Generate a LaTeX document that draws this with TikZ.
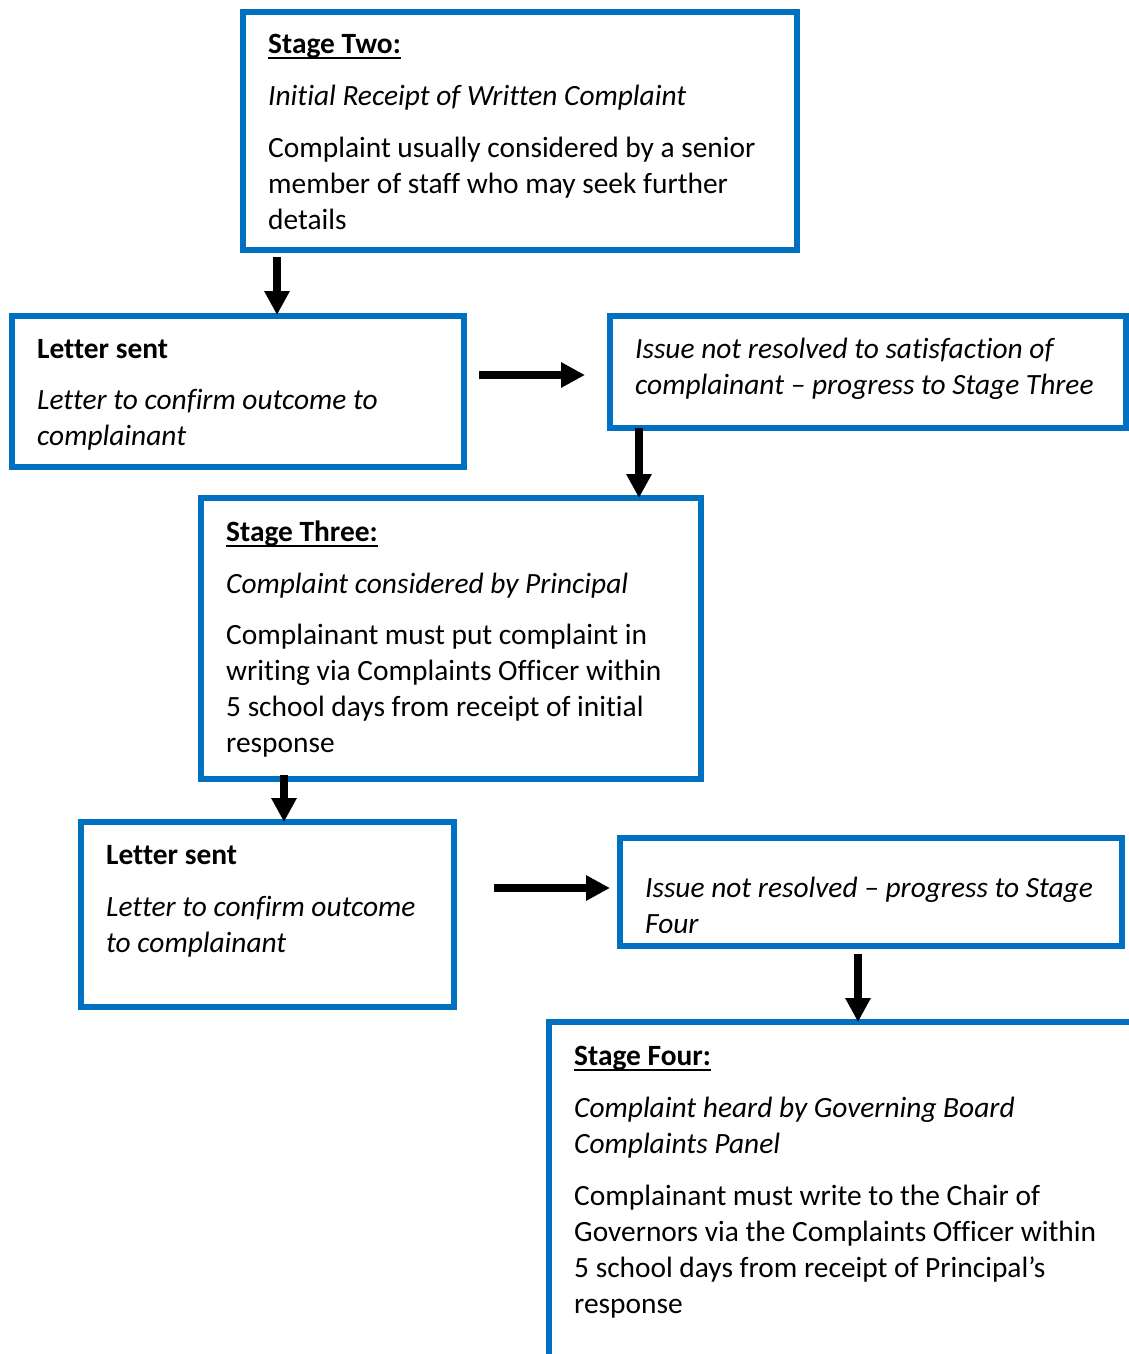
\documentclass[tikz,border=0pt]{standalone}
\usepackage{fontspec}
\setmainfont[Ligatures=NoCommon]{Carlito}
\usetikzlibrary{arrows.meta}
\definecolor{boxblue}{RGB}{0,112,192}
\begin{document}
\begin{tikzpicture}[x=1pt,y=-1pt,
  box/.style={draw=boxblue,line width=6pt,inner sep=0pt,anchor=north west},
  txt/.style={anchor=base west,inner sep=0pt,font=\fontsize{29.4pt}{36pt}\selectfont},
  ttl/.style={anchor=base west,inner sep=0pt,font=\fontsize{29.4pt}{36pt}\selectfont\bfseries},
  itx/.style={anchor=base west,inner sep=0pt,font=\fontsize{29.4pt}{36pt}\selectfont\itshape},
  arr/.style={-{Triangle[width=24pt,length=24pt]},line width=8pt,black},
  uline/.style={line width=2.2pt}]
\clip (0,0) rectangle (1129,1354);
\fill[white] (0,0) rectangle (1129,1354);

% boxes (positions are the outer north-west corners)
\node[box,minimum width=554pt,minimum height=238pt] (s2) at (240,9) {};
\node[box,minimum width=452pt,minimum height=151pt] (l1) at (9,313) {};
\node[box,minimum width=516pt,minimum height=112pt] (i1) at (607,313) {};
\node[box,minimum width=500pt,minimum height=281pt] (s3) at (198,495) {};
\node[box,minimum width=373pt,minimum height=185pt] (l2) at (78,819) {};
\node[box,minimum width=502pt,minimum height=108pt] (i2) at (617,835) {};
\node[box,minimum width=620pt,minimum height=400pt] (s4) at (546,1019) {};

% Stage Two text
\node[ttl] (s2t) at (268,53) {Stage Two:};
\draw[uline] ([yshift=-5pt]s2t.base west) -- ([yshift=-5pt]s2t.base east);
\node[itx] (s2a) at (268,105) {Initial Receipt of Written Complaint};
\node[txt] (s2b) at (268,157) {Complaint usually considered by a senior};
\node[txt] (s2c) at (268,193) {member of staff who may seek further};
\node[txt] (s2d) at (268,229) {details};

% Letter sent 1
\node[ttl] (l1t) at (37,358) {Letter sent};
\node[itx] (l1a) at (37,409) {Letter to confirm outcome to};
\node[itx] (l1b) at (37,445) {complainant};

% Issue 1
\node[itx] (i1a) at (635,358) {Issue not resolved to satisfaction of};
\node[itx] (i1b) at (635,394) {complainant -- progress to Stage Three};

% Stage Three
\node[ttl] (s3t) at (226,541) {Stage Three:};
\draw[uline] ([yshift=-5pt]s3t.base west) -- ([yshift=-5pt]s3t.base east);
\node[itx] (s3a) at (226,593) {Complaint considered by Principal};
\node[txt] (s3b) at (226,644) {Complainant must put complaint in};
\node[txt] (s3c) at (226,680) {writing via Complaints Officer within};
\node[txt] (s3d) at (226,716) {5 school days from receipt of initial};
\node[txt] (s3e) at (226,752) {response};

% Letter sent 2
\node[ttl] (l2t) at (106,864) {Letter sent};
\node[itx] (l2a) at (106,916) {Letter to confirm outcome};
\node[itx] (l2b) at (106,952) {to complainant};

% Issue 2 (text clipped by its box)
\begin{scope}
\clip (620,838) rectangle (1122,932);
\node[itx] (i2a) at (645,897) {Issue not resolved -- progress to Stage};
\node[itx] (i2b) at (645,933) {Four};
\end{scope}

% Stage Four
\node[ttl] (s4t) at (574,1065) {Stage Four:};
\draw[uline] ([yshift=-5pt]s4t.base west) -- ([yshift=-5pt]s4t.base east);
\node[itx] (s4a) at (574,1117) {Complaint heard by Governing Board};
\node[itx] (s4b) at (574,1153) {Complaints Panel};
\node[txt] (s4c) at (574,1205) {Complainant must write to the Chair of};
\node[txt] (s4d) at (574,1241) {Governors via the Complaints Officer within};
\node[txt] (s4e) at (574,1277) {5 school days from receipt of Principal’s};
\node[txt] (s4f) at (574,1313) {response};

% arrow guide coordinates
\coordinate (xa) at (277,0);
\coordinate (yb) at (0,375);
\coordinate (xc) at (639,0);
\coordinate (xd) at (284,0);
\coordinate (ye) at (0,888);
\coordinate (xf) at (858,0);

% arrows
\draw[arr,shorten <=4pt,shorten >=-2pt] (s2.south -| xa) -- (l1.north -| xa);
\draw[arr,shorten <=12pt,shorten >=22pt] (l1.east |- yb) -- (i1.west |- yb);
\draw[arr,shorten <=-3pt,shorten >=-3pt] (i1.south -| xc) -- (s3.north -| xc);
\draw[arr,shorten <=-7pt,shorten >=-3pt] (s3.south -| xd) -- (l2.north -| xd);
\draw[arr,shorten <=37pt,shorten >=7pt] (l2.east |- ye) -- (i2.west |- ye);
\draw[arr,shorten <=5pt,shorten >=-3pt] (i2.south -| xf) -- (s4.north -| xf);
\end{tikzpicture}
\end{document}
